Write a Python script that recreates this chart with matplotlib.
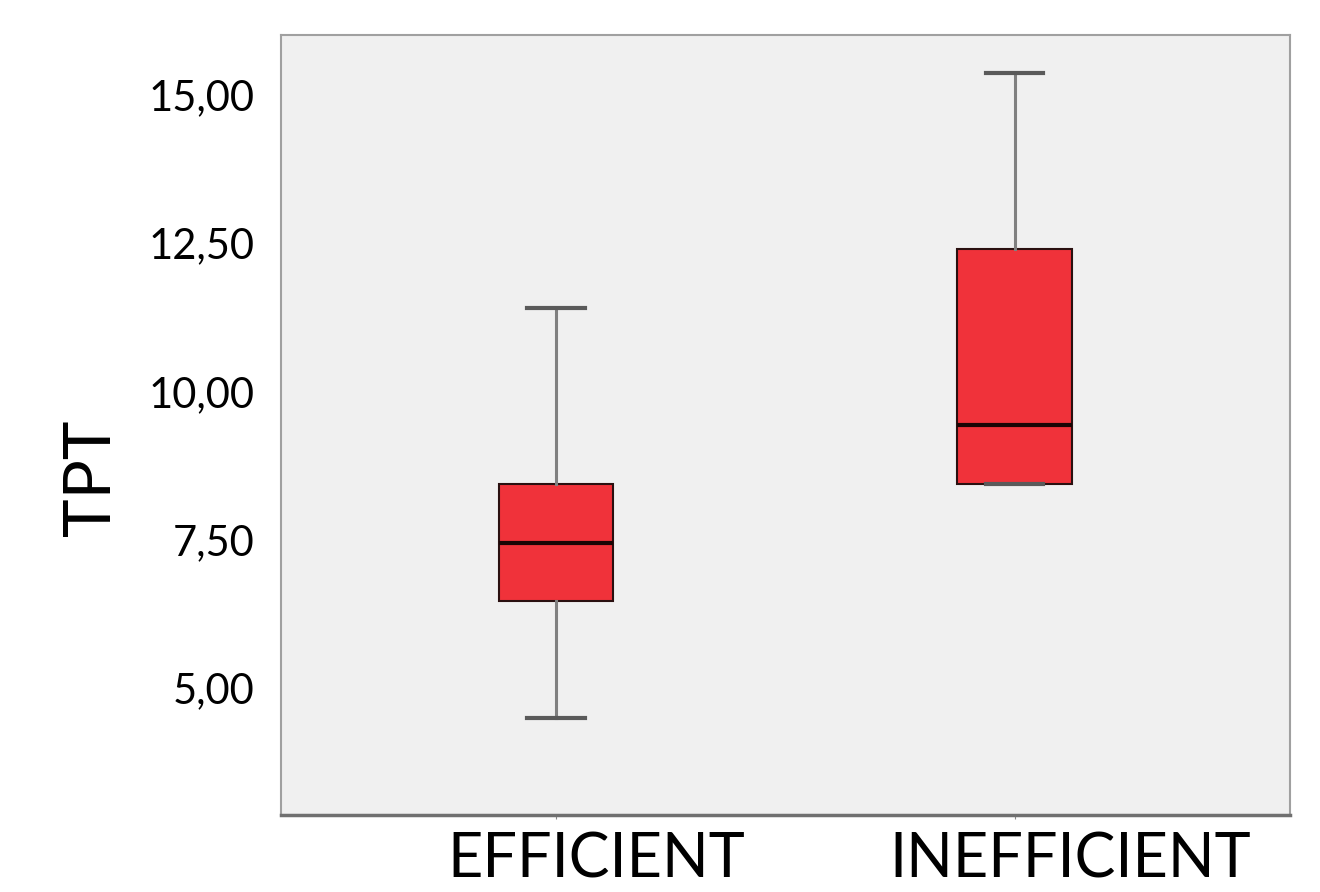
import matplotlib
matplotlib.use("Agg")
import matplotlib.pyplot as plt
from matplotlib.transforms import ScaledTranslation

categories = ["EFFICIENT", "INEFFICIENT"]
whisker_low = [4.49, 8.44]
q1 = [6.47, 8.44]
median = [7.45, 9.43]
q3 = [8.44, 12.40]
whisker_high = [11.41, 15.37]
yticks = [5.0, 7.5, 10.0, 12.5, 15.0]
ytick_labels = ["5,00", "7,50", "10,00", "12,50", "15,00"]

FONT = ["Lato", "DejaVu Sans"]

fig = plt.figure(figsize=(13.2, 8.92), dpi=100)
ax = fig.add_axes([0.2129, 0.0863, 0.7641, 0.8745])
ax.set_facecolor("#f0f0f0")

stats = []
for i, c in enumerate(categories):
    stats.append(dict(label=c, whislo=whisker_low[i], q1=q1[i], med=median[i],
                      q3=q3[i], whishi=whisker_high[i], fliers=[]))

ax.bxp(stats, positions=[1, 2], widths=0.25, patch_artist=True, showfliers=False,
       boxprops=dict(facecolor="#f0323a", edgecolor="#2a1010", linewidth=1.5),
       medianprops=dict(color="#1a0505", linewidth=3),
       whiskerprops=dict(color="#808080", linewidth=2.2),
       capprops=dict(color="#5a5a5a", linewidth=3),
       capwidths=0.125)

ax.set_xlim(0.4, 2.6)
ax.set_ylim(2.86, 16.01)
ax.set_yticks(yticks)
ax.set_yticklabels(ytick_labels, fontsize=30, family=FONT)
ax.set_xticks([1, 2])
ax.set_xticklabels(categories, fontsize=44, family=FONT)
ax.tick_params(axis="y", length=0, pad=19)
ax.tick_params(axis="x", length=3, color="#888888", pad=9)
ax.set_ylabel("TPT", fontsize=47, family=FONT)
ax.yaxis.set_label_coords(-0.1586, 0.432)

# reference labels sit slightly right of their ticks
for lbl, dx in zip(ax.get_xticklabels(), [0.40, 0.56]):
    lbl.set_transform(lbl.get_transform() + ScaledTranslation(dx, 0, fig.dpi_scale_trans))

for s in ax.spines.values():
    s.set_color("#a0a0a0")
    s.set_linewidth(1.5)
ax.spines["bottom"].set_color("#707070")
ax.spines["bottom"].set_linewidth(2.5)

fig.savefig("out.png", dpi=100)
